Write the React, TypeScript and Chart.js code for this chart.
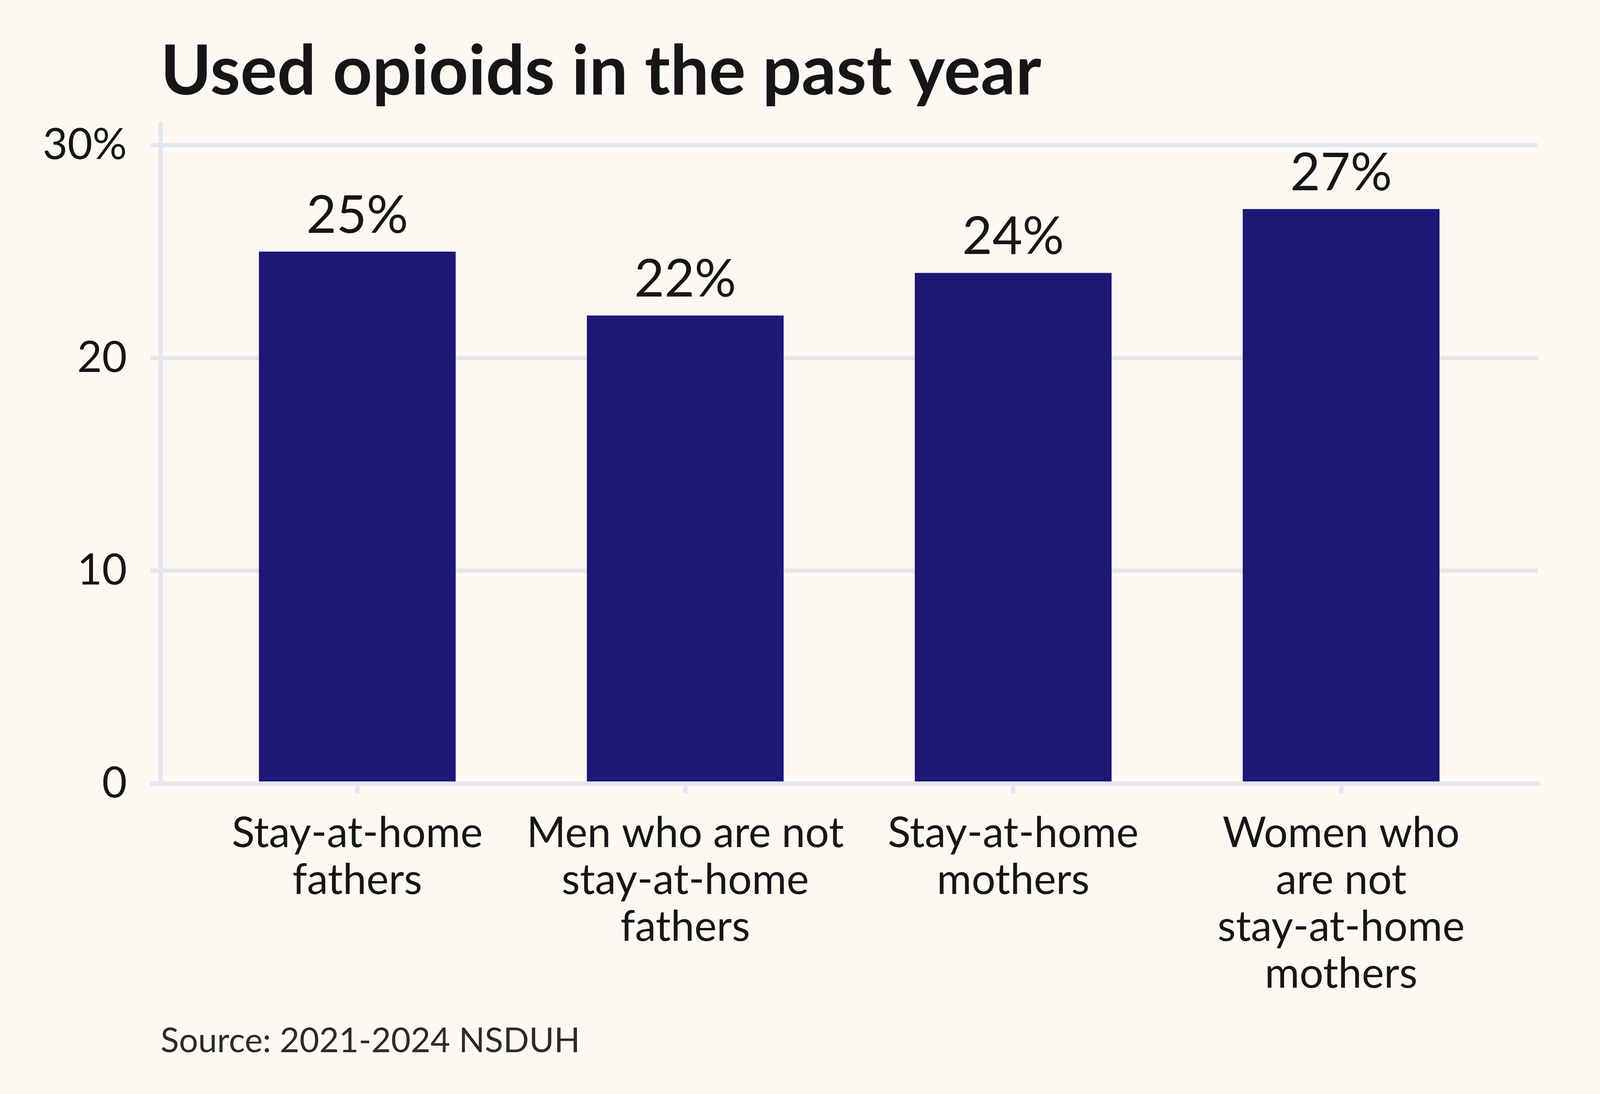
import React, { useEffect, useRef } from 'react';
import Chart from 'chart.js/auto';

// categories, split into the lines shown under each bar
const categories: string[][] = [
  ['Stay-at-home', 'fathers'],
  ['Men who are not', 'stay-at-home', 'fathers'],
  ['Stay-at-home', 'mothers'],
  ['Women who', 'are not', 'stay-at-home', 'mothers'],
];
const opioidUse: number[] = [25, 22, 24, 27];
const yTicks: number[] = [0, 10, 20, 30];
const yTickLabels: string[] = ['0', '10', '20', '30%'];
const chartTitle = 'Used opioids in the past year';
const sourceNote = 'Source: 2021-2024 NSDUH';

const BG = '#fef8f3';
const BAR = '#1d1775';
const GRID = '#e4e6ee';
const INK = '#161616';

const valueLabels = {
  id: 'valueLabels',
  afterDatasetsDraw(chart: any) {
    const { ctx } = chart;
    const meta = chart.getDatasetMeta(0);
    ctx.save();
    ctx.font = '133px Lato';
    ctx.fillStyle = INK;
    ctx.textAlign = 'center';
    ctx.textBaseline = 'alphabetic';
    meta.data.forEach((bar: any, i: number) => {
      ctx.fillText(`${opioidUse[i]}%`, bar.x, bar.y - 48);
    });
    ctx.restore();
  },
};

const App: React.FC = () => {
  const chartRef = useRef<HTMLCanvasElement | null>(null);
  const chartInstance = useRef<Chart | null>(null);

  useEffect(() => {
    document.body.style.margin = '0';
    if (!chartRef.current) return;
    if (chartInstance.current) chartInstance.current.destroy();

    chartInstance.current = new Chart(chartRef.current, {
      type: 'bar',
      data: {
        datasets: [
          {
            label: chartTitle,
            data: opioidUse.map((v, i) => ({ x: i, y: v })),
            backgroundColor: BAR,
            borderWidth: 0,
            barPercentage: 0.6,
            categoryPercentage: 1,
          },
        ],
      },
      options: {
        responsive: false,
        animation: false,
        devicePixelRatio: 1,
        layout: { padding: { top: 40, left: 0, right: 223, bottom: 83 } },
        plugins: {
          legend: { display: false },
          tooltip: { enabled: false },
          title: {
            display: true,
            fullSize: false,
            text: chartTitle,
            align: 'start',
            color: INK,
            font: { family: 'Lato', size: 176, weight: 'bold', lineHeight: 1.2 },
            padding: { top: 40, bottom: 26 },
          },
          subtitle: {
            display: true,
            fullSize: false,
            position: 'bottom',
            text: sourceNote,
            align: 'start',
            color: '#2b2b2b',
            font: { family: 'Lato', size: 87, lineHeight: 1.2 },
            padding: 0,
          },
        },
        scales: {
          x: {
            type: 'linear',
            min: -0.6,
            max: 3.6,
            offset: false,
            z: 1,
            afterBuildTicks: (axis: any) => {
              axis.ticks = categories.map((_, i) => ({ value: i }));
            },
            afterFit: (axis: any) => {
              axis.height = 607;
            },
            grid: {
              offset: false,
              drawOnChartArea: false,
              drawTicks: true,
              tickLength: 25,
              lineWidth: 11,
              color: GRID,
            },
            border: { display: true, color: GRID, width: 11 },
            ticks: {
              autoSkip: false,
              maxRotation: 0,
              padding: 43,
              color: INK,
              font: { family: 'Lato', size: 108, lineHeight: 1.11 },
              callback: (value: any) => categories[value as number],
            },
          },
          y: {
            min: 0,
            max: 31,
            afterBuildTicks: (axis: any) => {
              axis.ticks = yTicks.map((v) => ({ value: v }));
            },
            afterFit: (axis: any) => {
              axis.width = 411;
            },
            grid: { color: GRID, lineWidth: 11, drawTicks: true, tickLength: 26 },
            border: { display: true, color: GRID, width: 11 },
            ticks: {
              padding: 60,
              color: INK,
              font: { family: 'Lato', size: 110 },
              callback: (value: any) => yTickLabels[yTicks.indexOf(value as number)],
            },
          },
        },
      },
      plugins: [valueLabels],
    } as any);

    return () => {
      if (chartInstance.current) {
        chartInstance.current.destroy();
        chartInstance.current = null;
      }
    };
  }, []);

  return (
    <div style={{ width: 4160, height: 2800, background: BG, overflow: 'hidden' }}>
      <canvas ref={chartRef} width={4160} height={2800} style={{ display: 'block' }}></canvas>
    </div>
  );
};

export default App;
